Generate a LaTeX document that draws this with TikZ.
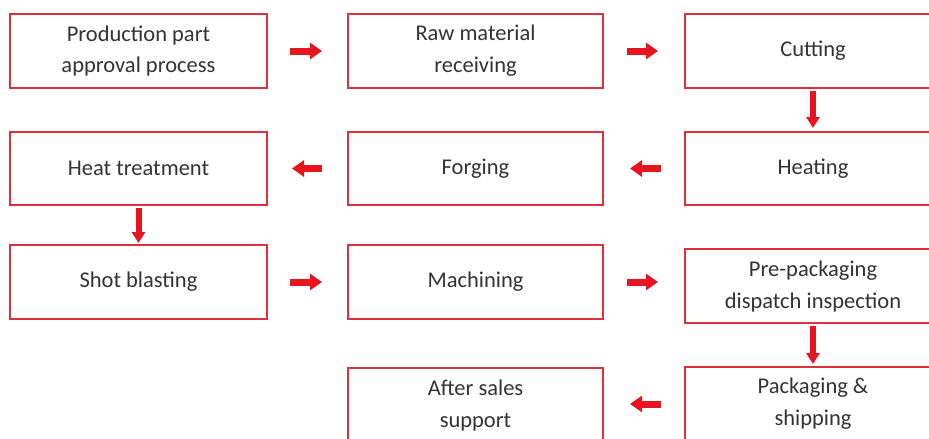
\documentclass[tikz,border=0pt]{standalone}
\usepackage{fontspec}
\setmainfont{Carlito}
\usetikzlibrary{arrows.meta}
\definecolor{boxred}{HTML}{E0303C}
\definecolor{arrred}{HTML}{E8151F}
\definecolor{txt}{HTML}{333333}
\begin{document}
\begin{tikzpicture}[x=1pt,y=-1pt,
  stepbox/.style={draw=boxred, line width=2.8pt, fill=white, rectangle, inner sep=0pt, outer sep=0pt,
    minimum width=256pt, minimum height=74pt, align=center, text=txt,
    font=\fontsize{22.5}{32}\selectfont},
  harr/.style={draw=arrred, line width=7pt, -{Triangle[length=12pt,width=16pt]}},
  varr/.style={draw=arrred, line width=6pt, -{Triangle[length=11pt,width=13pt]}}]
\useasboundingbox (0,0) rectangle (929,439);
\clip (0,0) rectangle (929,439);
\node[stepbox, minimum width=257pt] (A) at (138.5,51) {Production part\\approval process};
\node[stepbox, minimum width=255pt] (B) at (475.5,51) {Raw material\\receiving};
\node[stepbox] (C) at (813,51) {Cutting};
\node[stepbox, minimum height=73pt] (D) at (813,168.5) {Heating};
\node[stepbox, minimum width=255pt, minimum height=73pt] (E) at (475.5,168.5) {Forging};
\node[stepbox, minimum width=257pt, minimum height=73pt] (F) at (138.5,168.5) {Heat treatment};
\node[stepbox, minimum width=257pt] (G) at (138.5,282) {Shot blasting};
\node[stepbox, minimum width=255pt] (H) at (475.5,282) {Machining};
\node[stepbox] (I) at (813,286) {Pre-packaging\\dispatch inspection};
\node[stepbox] (J) at (813,404) {Packaging \&\\shipping};
\node[stepbox, minimum width=255pt] (K) at (475.5,405) {After sales\\support};
% horizontal arrows
\draw[harr, shorten <=23pt, shorten >=26pt] (A.east) -- (B.west);
\draw[harr, shorten <=24pt, shorten >=27pt] (B.east) -- (C.west);
\draw[harr, shorten <=24pt, shorten >=27pt] (D.west) -- (E.east);
\draw[harr, shorten <=26pt, shorten >=25pt] (E.west) -- (F.east);
\draw[harr, shorten <=23pt, shorten >=26pt] (G.east) -- (H.west);
\draw[harr, shorten <=24pt, shorten >=27pt] (H.east) -- (H.east -| I.west);
\draw[harr, shorten <=24pt, shorten >=27pt] (J.west) -- (J.west -| K.east);
% vertical arrows
\draw[varr, shorten <=3pt, shorten >=4pt] (C.south) -- (D.north);
\draw[varr, shorten <=3pt, shorten >=2pt] (F.south) -- (G.north);
\draw[varr, shorten <=3pt, shorten >=3pt] (I.south) -- (J.north);
\end{tikzpicture}
\end{document}
